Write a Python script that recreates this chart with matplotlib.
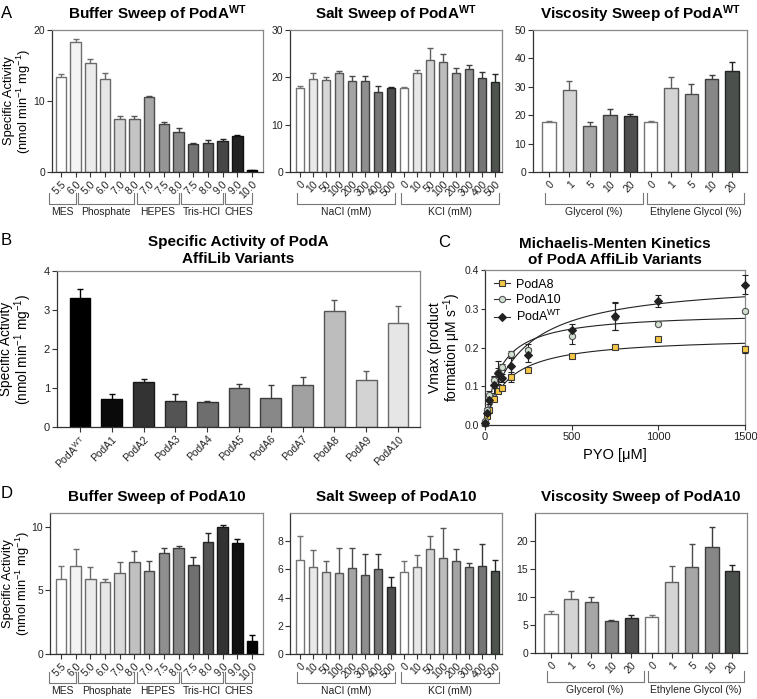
import numpy as np
import matplotlib
matplotlib.use("Agg")
import matplotlib.pyplot as plt
from matplotlib.lines import Line2D
from matplotlib.colors import to_rgb

plt.rcParams['font.family'] = ['Liberation Sans', 'DejaVu Sans']
plt.rcParams['mathtext.fontset'] = 'custom'
plt.rcParams['mathtext.rm'] = 'Liberation Sans'
plt.rcParams['mathtext.it'] = 'Liberation Sans:italic'
plt.rcParams['mathtext.bf'] = 'Liberation Sans:bold'

W, H = 757, 699

# ---- data ----
buffer_labels = ['5.5', '6.0', '5.0', '6.0', '7.0', '8.0', '7.0', '7.5', '8.0',
                 '7.5', '8.0', '9.0', '9.0', '10.0']
buffer_groups = ['MES', 'Phosphate', 'HEPES', 'Tris-HCl', 'CHES']
buffer_counts = [2, 4, 3, 3, 2]

salt_labels = ['0', '10', '50', '100', '200', '300', '400', '500'] * 2
salt_groups = ['NaCl (mM)', 'KCl (mM)']
salt_counts = [8, 8]

visc_labels = ['0', '1', '5', '10', '20'] * 2
visc_groups = ['Glycerol (%)', 'Ethylene Glycol (%)']
visc_counts = [5, 5]

wt_buffer = [13.4, 18.3, 15.3, 13.1, 7.4, 7.5, 10.5, 6.7, 5.7, 3.95, 4.1, 4.3, 5.1, 0.25]
wt_buffer_sd = [0.4, 0.4, 0.6, 0.8, 0.5, 0.4, 0.2, 0.3, 0.5, 0.15, 0.4, 0.35, 0.15, 0.05]

wt_salt = [17.85, 19.55, 19.4, 20.95, 19.2, 19.2, 16.9, 17.85,
           17.7, 21.0, 23.7, 23.2, 21.0, 21.7, 19.8, 19.05]
wt_salt_sd = [0.35, 1.45, 0.6, 0.45, 1.0, 1.0, 1.2, 0.15,
              0.3, 0.5, 2.6, 1.7, 0.9, 1.0, 1.3, 1.75]

wt_visc = [17.6, 28.9, 16.2, 19.9, 19.8, 17.6, 29.6, 27.4, 32.6, 35.4]
wt_visc_sd = [0.4, 3.3, 1.3, 2.3, 0.7, 0.4, 3.7, 3.7, 1.6, 3.2]

variants = ['PodA$^{\\rm WT}$', 'PodA1', 'PodA2', 'PodA3', 'PodA4', 'PodA5',
            'PodA6', 'PodA7', 'PodA8', 'PodA9', 'PodA10']
variant_act = [3.30, 0.72, 1.15, 0.655, 0.63, 1.01, 0.74, 1.08, 2.98, 1.20, 2.66]
variant_sd = [0.24, 0.12, 0.08, 0.2, 0.03, 0.09, 0.33, 0.21, 0.28, 0.23, 0.43]

pyo = np.array([0, 10, 25, 50, 75, 100, 150, 250, 500, 750, 1000, 1500])
v_a8 = np.array([0.006, 0.022, 0.04, 0.068, 0.088, 0.095, 0.124, 0.143, 0.177, 0.202, 0.223, 0.195])
v_a8_sd = np.array([0.003, 0.004, 0.005, 0.005, 0.006, 0.005, 0.012, 0.005, 0.005, 0.005, 0.005, 0.01])
v_a10 = np.array([0.01, 0.04, 0.078, 0.117, 0.135, 0.149, 0.183, 0.193, 0.229, 0.28, 0.261, 0.293])
v_a10_sd = np.array([0.003, 0.005, 0.01, 0.01, 0.012, 0.008, 0.008, 0.015, 0.02, 0.036, 0.004, 0.004])
v_wt = np.array([0.006, 0.03, 0.065, 0.103, 0.135, 0.122, 0.152, 0.18, 0.245, 0.281, 0.32, 0.362])
v_wt_sd = np.array([0.004, 0.006, 0.01, 0.02, 0.03, 0.01, 0.02, 0.018, 0.015, 0.036, 0.015, 0.025])

a10_buffer = [5.94, 6.96, 5.89, 5.68, 6.39, 7.25, 6.54, 7.98, 8.32, 7.02, 8.82, 10.0, 8.7, 1.05]
a10_buffer_sd = [0.96, 1.34, 0.97, 0.24, 0.84, 0.87, 0.79, 0.34, 0.18, 0.58, 0.73, 0.18, 0.38, 0.42]

a10_salt = [6.7, 6.17, 5.8, 5.72, 6.13, 5.6, 6.03, 4.75,
            5.8, 6.2, 7.48, 6.82, 6.58, 6.15, 6.27, 5.87]
a10_salt_sd = [1.66, 1.23, 0.78, 1.81, 1.4, 1.5, 1.07, 0.71,
               0.8, 0.85, 0.92, 2.11, 0.88, 0.33, 1.5, 0.78]

a10_visc = [7.04, 9.6, 9.17, 5.74, 6.27, 6.39, 12.6, 15.44, 19.0, 14.6]
a10_visc_sd = [0.42, 1.47, 0.89, 0.12, 0.59, 0.41, 3.02, 4.06, 3.5, 1.14]

# ---- colours ----
buffer_wt_colors = ['#ffffff', '#f4f4f4', '#ebebeb', '#e6e6e6', '#d6d6d6', '#c4c4c4', '#a8a8a8',
                    '#959595', '#8a8a8a', '#737373', '#646464', '#464646', '#222222', '#000000']
buffer_a10_colors = ['#ffffff', '#f3f3f3', '#ebebeb', '#e6e6e6', '#dadada', '#c0c0c0', '#a5a5a5',
                     '#8f8f8f', '#888888', '#707070', '#555555', '#333333', '#111111', '#000000']
salt_colors = ['#ffffff', '#e9e9e9', '#d6d6d6', '#bebebe', '#a4a4a4', '#8e8e8e', '#777777', '#4e4e4e',
               '#ffffff', '#e7e7e7', '#d3d3d3', '#bcbcbc', '#a4a4a4', '#8e8e8e', '#767676', '#4f544f']
visc_colors = ['#ffffff', '#d4d4d4', '#a6a6a6', '#878787', '#505050',
               '#ffffff', '#d4d4d4', '#a6a6a6', '#878787', '#4c504c']
variant_colors = ['#000000', '#0a0a0a', '#333333', '#545454', '#6e6e6e', '#858585',
                  '#888888', '#a1a1a1', '#bdbdbd', '#d3d3d3', '#e6e6e6']


def rect(l, t, r, b):
    return [l / W, 1 - b / H, (r - l) / W, (b - t) / H]


def darker(c, f=0.45):
    return tuple(v * f for v in to_rgb(c))


def style(ax, fs=7.5):
    for s in ['left', 'bottom']:
        ax.spines[s].set_color('#333333')
    for s in ['top', 'right']:
        ax.spines[s].set_color('#888888')
    for s in ax.spines.values():
        s.set_linewidth(0.9)
    ax.tick_params(direction='out', length=3.5, width=0.8, color='#333333',
                   labelsize=fs, pad=1.5, labelcolor='#222222')


def bar_panel(ax, vals, sds, colors, labels, xlim, ylim, yticks, width=0.68, fs=7.5):
    x = np.arange(len(vals))
    edges = [darker(c) for c in colors]
    for xi, v, s, e in zip(x, vals, sds, edges):
        ax.errorbar(xi, v, yerr=s, fmt='none', ecolor=e, elinewidth=1.0,
                    capsize=2.5, capthick=1.0, zorder=1)
    ax.bar(x, vals, width=width, color=colors, edgecolor=edges, linewidth=1.0, zorder=2)
    ax.set_xlim(*xlim)
    ax.set_ylim(*ylim)
    ax.set_yticks(yticks)
    ax.set_xticks(x)
    ax.set_xticklabels(labels, rotation=45, ha='right', va='top',
                       rotation_mode='anchor', fontsize=fs)
    style(ax)


def brackets(ax, names, counts, lo, hi, top_px, bot_px, lab_px, h_px):
    tr = ax.get_xaxis_transform()
    y0, y1, yl = -top_px / h_px, -bot_px / h_px, -lab_px / h_px
    start = 0
    for name, n in zip(names, counts):
        xa, xb = start + lo, start + n - 1 + hi
        ax.plot([xa, xa, xb, xb], [y0, y1, y1, y0], transform=tr,
                color='#777777', lw=0.8, clip_on=False)
        ax.text((xa + xb) / 2, yl, name, transform=tr, ha='center', va='center',
                fontsize=7.5, color='#222222')
        start += n


def mm_fit(x, y):
    best = None
    for km in np.linspace(1, 1500, 3000):
        f = x / (km + x)
        vmax = (f @ y) / (f @ f)
        r = np.sum((y - vmax * f) ** 2)
        if best is None or r < best[0]:
            best = (r, vmax, km)
    return best[1], best[2]


def side_label(ax, text, right_px, left_px, width_px, fs=10):
    # right edge of the rotated label sits right_px left of the axis
    ax.set_ylabel(text, fontsize=fs, linespacing=0.95)
    ax.yaxis.set_label_coords(-(left_px - right_px) / width_px, 0.5)


fig = plt.figure(figsize=(W / 100, H / 100), dpi=100)

ylab = 'Specific Activity\n(nmol min$^{-1}$ mg$^{-1}$)'
tfs = 11

# ---- row A ----
a1 = fig.add_axes(rect(52, 30, 263, 172))
bar_panel(a1, wt_buffer, wt_buffer_sd, buffer_wt_colors, buffer_labels,
          (-0.61, 13.75), (0, 20), [0, 10, 20], width=0.72)
brackets(a1, buffer_groups, buffer_counts, -0.82, 0.0, 21, 32, 40, 142)
a1.set_title('Buffer Sweep of PodA$^{\\mathbf{WT}}$', fontsize=tfs, fontweight='bold', pad=8)
side_label(a1, ylab, 33, 52, 211, fs=9.3)

a2 = fig.add_axes(rect(290, 30, 502, 172))
bar_panel(a2, wt_salt, wt_salt_sd, salt_colors, salt_labels,
          (-0.77, 15.54), (0, 30), [0, 10, 20, 30], width=0.67)
brackets(a2, salt_groups, salt_counts, -0.25, 0.28, 21, 32, 40, 142)
a2.set_title('Salt Sweep of PodA$^{\\mathbf{WT}}$', fontsize=tfs, fontweight='bold', pad=8)

a3 = fig.add_axes(rect(533, 30, 747, 172))
bar_panel(a3, wt_visc, wt_visc_sd, visc_colors, visc_labels,
          (-0.79, 9.74), (0, 50), [0, 10, 20, 30, 40, 50], width=0.66)
brackets(a3, visc_groups, visc_counts, -0.2, 0.6, 21, 32, 40, 142)
a3.set_title('Viscosity Sweep of PodA$^{\\mathbf{WT}}$', fontsize=tfs, fontweight='bold', pad=8)

# ---- panel B ----
b = fig.add_axes(rect(57, 271, 420, 427))
bar_panel(b, variant_act, variant_sd, variant_colors, variants,
          (-0.72, 10.69), (0, 4), [0, 1, 2, 3, 4], width=0.65, fs=9.5)
b.tick_params(axis='y', labelsize=8)
b.set_title('Specific Activity of PodA\nAffiLib Variants', fontsize=tfs,
            fontweight='bold', pad=6)
side_label(b, ylab, 34, 57, 363, fs=9.8)

# ---- panel C ----
c = fig.add_axes(rect(485, 270, 745, 425))
xs = np.linspace(0, 1500, 400)
series = [
    (v_a8, v_a8_sd, 's', '#f6c744', '#3a3a3a', 4.5, 'PodA8'),
    (v_a10, v_a10_sd, 'o', '#cfe0d0', '#555555', 4.5, 'PodA10'),
    (v_wt, v_wt_sd, 'D', '#222222', '#222222', 3.6, 'PodA$^{\\rm WT}$'),
]
handles = []
for v, sd, mk, fc, ec, ms, name in series:
    vmax, km = mm_fit(pyo, v)
    c.plot(xs, vmax * xs / (km + xs), color='#222222', lw=0.8, zorder=2)
    c.errorbar(pyo, v, yerr=sd, fmt=mk, mfc=fc, mec=ec, ms=ms, mew=0.8,
               ecolor='#222222', elinewidth=0.8, capsize=2.5, capthick=0.8,
               zorder=3, clip_on=False)
    handles.append(Line2D([], [], color='#333333', lw=0.8, marker=mk, mfc=fc,
                          mec=ec, ms=ms, mew=0.8, label=name))
c.set_xlim(0, 1500)
c.set_ylim(0, 0.4)
c.set_xticks([0, 500, 1000, 1500])
c.set_yticks([0, 0.1, 0.2, 0.3, 0.4])
c.set_yticklabels(['0.0', '0.1', '0.2', '0.3', '0.4'])
style(c, fs=8)
c.tick_params(axis='y', labelsize=7.5, length=3, pad=1)
c.legend(handles=handles, loc='upper left', frameon=False, fontsize=9,
         handlelength=1.3, handletextpad=0.5, labelspacing=0.25,
         borderaxespad=0.3)
c.set_title('Michaelis-Menten Kinetics\nof PodA AffiLib Variants', fontsize=tfs,
            fontweight='bold', pad=4.5)
c.set_xlabel('PYO [\u03bcM]', fontsize=10.5, labelpad=4)
side_label(c, 'Vmax (product\nformation \u03bcM s$^{-1}$)', 463, 485, 260)

# ---- row D ----
d1 = fig.add_axes(rect(50, 513, 263, 654))
bar_panel(d1, a10_buffer, a10_buffer_sd, buffer_a10_colors, buffer_labels,
          (-0.75, 13.75), (0, 11.1), [0, 5, 10], width=0.72)
brackets(d1, buffer_groups, buffer_counts, -0.82, 0.0, 18, 29, 37, 141)
d1.set_title('Buffer Sweep of PodA10', fontsize=tfs, fontweight='bold', pad=9)
side_label(d1, ylab, 32, 50, 213, fs=9.3)

d2 = fig.add_axes(rect(290, 513, 502, 654))
bar_panel(d2, a10_salt, a10_salt_sd, salt_colors, salt_labels,
          (-0.77, 15.54), (0, 10), [0, 2, 4, 6, 8], width=0.67)
brackets(d2, salt_groups, salt_counts, -0.25, 0.28, 18, 29, 37, 141)
d2.set_title('Salt Sweep of PodA10', fontsize=tfs, fontweight='bold', pad=9)

d3 = fig.add_axes(rect(535, 513, 747, 653))
bar_panel(d3, a10_visc, a10_visc_sd, visc_colors, visc_labels,
          (-0.79, 9.74), (0, 25), [0, 5, 10, 15, 20], width=0.66)
brackets(d3, visc_groups, visc_counts, -0.2, 0.6, 18, 29, 37, 140)
d3.set_title('Viscosity Sweep of PodA10', fontsize=tfs, fontweight='bold', pad=9)

# ---- panel letters ----
for letter, x, y in [('A', 1, 18), ('B', 1, 245), ('C', 438, 247), ('D', 1, 498)]:
    fig.text(x / W, 1 - y / H, letter, fontsize=12, va='baseline', ha='left')

fig.savefig('out.png', dpi=100)
